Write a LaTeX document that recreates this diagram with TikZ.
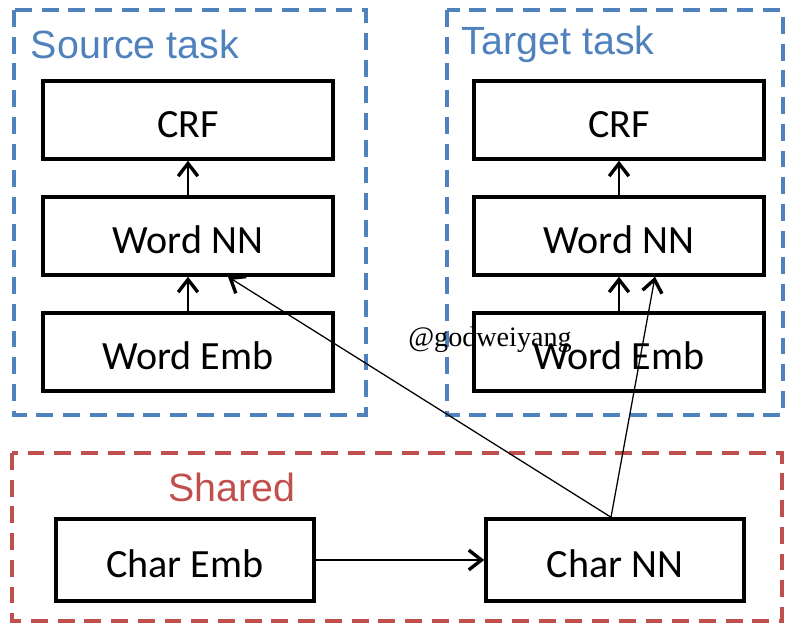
\documentclass[tikz,border=0pt]{standalone}
\usepackage{fontspec}
\setmainfont{Carlito}
\newfontfamily\labelfont{Liberation Sans}
\newfontfamily\markfont{Liberation Serif}
\usetikzlibrary{arrows.meta}
\definecolor{taskblue}{HTML}{4F81BD}
\definecolor{sharedred}{HTML}{C0504D}
\begin{document}
\begin{tikzpicture}[x=0.025cm,y=-0.025cm,
    layer/.style={draw,line width=2.5pt,minimum width=7.25cm,minimum height=1.95cm,
      text height=25pt,text depth=0pt,font=\fontsize{28.5}{30}\selectfont},
    charlayer/.style={layer,minimum width=6.45cm,minimum height=2.05cm},
    group/.style={dashed,line width=2.6pt,dash pattern=on 12pt off 7pt},
    grouplabel/.style={font=\labelfont\fontsize{28}{30}\selectfont},
    flow/.style={-{Straight Barb[length=9pt,width=14pt,line width=2.4pt]},line width=0.9pt}]
  \useasboundingbox (0,0) rectangle (804,635);
  % task and shared groups
  \draw[group,taskblue] (14,10) rectangle (366,415);
  \draw[group,taskblue] (447,10) rectangle (783,415);
  \draw[group,sharedred] (12,453) rectangle (782,621);
  \node[grouplabel,taskblue,anchor=west] (srclabel) at (26,44) {Source task};
  \node[grouplabel,taskblue,anchor=west] (tgtlabel) at (457,44) {Target task};
  \node[grouplabel,sharedred] (sharedlabel) at (232,487) {Shared};
  \draw
    (188,120) node[layer] (srccrf){CRF}
    (188,236) node[layer] (srcnn){Word NN}
    (188,352) node[layer] (srcemb){Word Emb}
    (619,120) node[layer] (tgtcrf){CRF}
    (619,236) node[layer] (tgtnn){Word NN}
    (619,352) node[layer] (tgtemb){Word Emb}
    (185,560) node[charlayer] (charemb){Char Emb}
    (615,560) node[charlayer] (charnn){Char NN};
  \node[font=\markfont\fontsize{20}{22}\selectfont] (mark) at (490,340) {@godweiyang};
  \begin{scope}[flow]
    \draw (srcnn) to (srccrf);
    \draw (srcemb) to (srcnn);
    \draw (tgtnn) to (tgtcrf);
    \draw (tgtemb) to (tgtnn);
    \draw ([xshift=-0.1cm]charnn.north) to ([xshift=0.9cm]tgtnn.south);
    \draw ([xshift=-0.1cm]charnn.north) to ([xshift=1cm]srcnn.south);
    \draw (charemb) to (charnn);
  \end{scope}
\end{tikzpicture}
\end{document}
